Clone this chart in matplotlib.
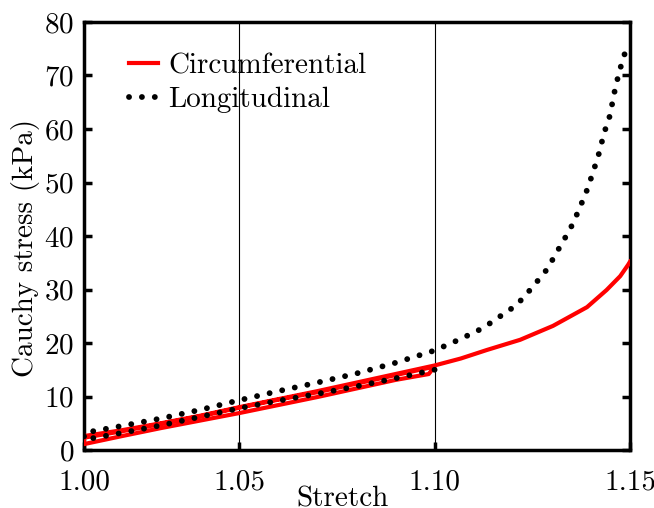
import numpy as np
import matplotlib
matplotlib.use("Agg")
import matplotlib.pyplot as plt

plt.rcParams["font.family"] = "serif"
plt.rcParams["font.serif"] = ["cmr10", "DejaVu Serif"]
plt.rcParams["mathtext.fontset"] = "cm"
plt.rcParams["axes.formatter.use_mathtext"] = True

# stretch / Cauchy stress (kPa)
# circumferential: load to 1.10, unload, reload to 1.15
circ_load1_x = [1.0103, 1.02, 1.03, 1.04, 1.05, 1.06, 1.07, 1.08, 1.09, 1.10]
circ_load1_y = [2.3, 3.5, 4.9, 6.3, 7.9, 9.4, 10.8, 12.4, 14.0, 15.6]
circ_unload_x = [1.0985, 1.09, 1.08, 1.07, 1.06, 1.05, 1.04, 1.03, 1.02, 1.0103]
circ_unload_y = [14.2, 13.1, 11.5, 9.9, 8.4, 6.9, 5.5, 4.1, 2.6, 1.1]
circ_load2_x = [1.0103, 1.02, 1.03, 1.04, 1.05, 1.06, 1.07, 1.08, 1.09, 1.10,
                1.1067, 1.1134, 1.1219, 1.1303, 1.139, 1.144, 1.1475, 1.1495, 1.15]
circ_load2_y = [2.6, 3.7, 5.0, 6.4, 8.0, 9.5, 11.0, 12.6, 14.2, 15.8,
                17.1, 18.7, 20.6, 23.2, 26.7, 29.9, 32.5, 34.6, 35.2]

# longitudinal: unload from 1.10, then load to 1.15
long_unload_x = [1.10, 1.09, 1.08, 1.07, 1.06, 1.05, 1.04, 1.03, 1.02, 1.0103]
long_unload_y = [15.0, 13.4, 11.9, 10.5, 9.2, 7.8, 6.2, 4.6, 3.2, 1.9]
long_load2_x = [1.0103, 1.02, 1.03, 1.04, 1.05, 1.06, 1.07, 1.08, 1.09, 1.10,
                1.1065, 1.1124, 1.1172, 1.121, 1.1249, 1.1288, 1.132, 1.1347,
                1.1367, 1.1388, 1.1405, 1.142, 1.1434, 1.1449, 1.1459, 1.1472, 1.1487]
long_load2_y = [3.2, 4.5, 5.9, 7.5, 9.3, 11.0, 12.6, 14.3, 16.3, 18.6,
                20.7, 22.8, 25.2, 27.1, 30.3, 33.8, 37.9, 41.3,
                44.5, 48.2, 51.8, 55.3, 59.3, 62.6, 66.5, 70.6, 74.2]

x_ticks = [1.0103, 1.05, 1.10, 1.15]
x_tick_labels = ["1.00", "1.05", "1.10", "1.15"]
y_ticks = [0, 10, 20, 30, 40, 50, 60, 70, 80]

fig = plt.figure(figsize=(6.54, 5.08), dpi=100)
ax = fig.add_axes([84 / 654, 58 / 508, 546 / 654, 428 / 508])

circ_x = circ_load1_x + circ_unload_x + circ_load2_x
circ_y = circ_load1_y + circ_unload_y + circ_load2_y
long_x = long_unload_x + long_load2_x
long_y = long_unload_y + long_load2_y

ax.plot(circ_x, circ_y, color="red", lw=3, label="Circumferential", zorder=3)
ax.plot(long_x, long_y, color="black", lw=4.2, linestyle=(0, (0.01, 2.2)),
        dash_capstyle="round", label="Longitudinal", zorder=4)

ax.set_xlim(x_ticks[0], x_ticks[-1])
ax.set_ylim(0, 80)
ax.set_xticks(x_ticks)
ax.set_xticklabels(x_tick_labels)
ax.set_yticks(y_ticks)
ax.xaxis.grid(True, color="black", lw=0.8)
ax.set_axisbelow(True)

ax.tick_params(direction="in", length=6, width=2.5, labelsize=21, pad=7,
               top=False, right=True)
ax.tick_params(axis="x", pad=14)
for s in ax.spines.values():
    s.set_linewidth(2.5)

ax.set_xlabel("Stretch", fontsize=21)
ax.set_ylabel("Cauchy stress (kPa)", fontsize=21)
ax.xaxis.set_label_coords(0.473, -0.085)
ax.yaxis.set_label_coords(-0.08, 0.472)

ax.legend(loc="upper left", frameon=False, fontsize=21, handlelength=1.0,
          handletextpad=0.35, labelspacing=0.25, borderaxespad=0.3,
          bbox_to_anchor=(0.045, 0.975))

fig.savefig("out.png", dpi=100)
